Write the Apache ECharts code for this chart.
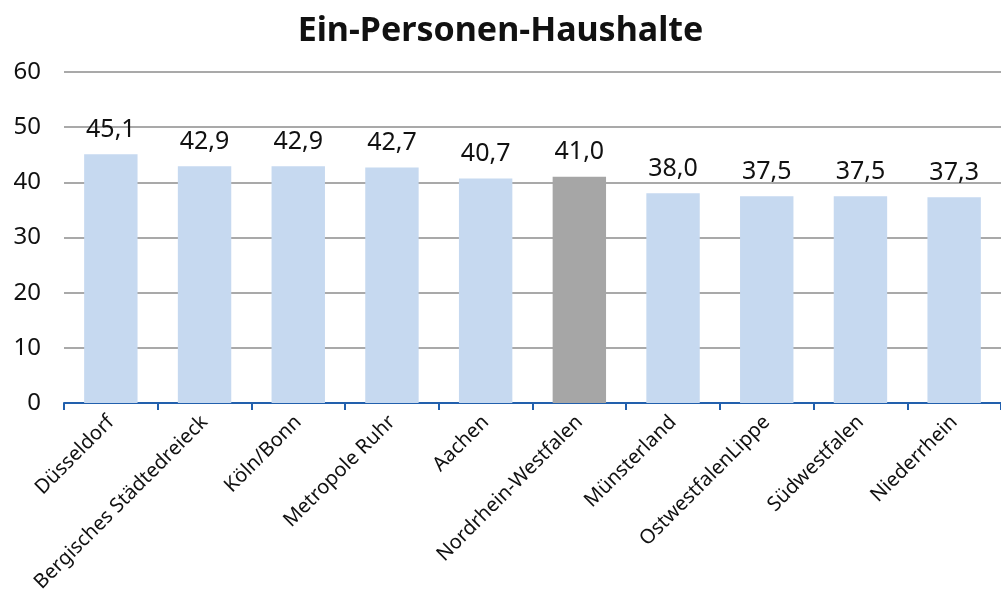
<!DOCTYPE html>
<html>
<head>
<meta charset="utf-8">
<script src="https://cdn.jsdelivr.net/npm/echarts@6/dist/echarts.min.js"></script>
<style>
  html, body { margin: 0; padding: 0; background: #fff; }
  #chart { width: 1001px; height: 596px; }
</style>
</head>
<body>
<div id="chart"></div>
<script>
const categories = ['Düsseldorf', 'Bergisches Städtedreieck', 'Köln/Bonn', 'Metropole Ruhr', 'Aachen',
  'Nordrhein-Westfalen', 'Münsterland', 'OstwestfalenLippe', 'Südwestfalen', 'Niederrhein'];
const values = [45.1, 42.9, 42.9, 42.7, 40.7, 41.0, 38.0, 37.5, 37.5, 37.3];
const highlight = 'Nordrhein-Westfalen';

const font = 'Noto Sans';

const chart = echarts.init(document.getElementById('chart'), null, { renderer: 'canvas' });
chart.setOption({
  animation: false,
  title: {
    text: 'Ein-Personen-Haushalte',
    left: 'center',
    top: 9,
    textStyle: { fontFamily: font, fontSize: 34, fontWeight: 'bold', color: '#111' }
  },
  grid: { left: 64, top: 72, width: 946, height: 331 },
  xAxis: {
    type: 'category',
    data: categories,
    axisLine: { lineStyle: { color: '#2260ad', width: 2 } },
    axisTick: { show: true, length: 7, lineStyle: { color: '#2260ad', width: 2 } },
    axisLabel: { interval: 0, rotate: 45, margin: 16, fontFamily: font, fontSize: 20, color: '#111' }
  },
  yAxis: {
    type: 'value',
    min: 0,
    max: 60,
    interval: 10,
    axisLine: { show: false },
    axisTick: { show: false },
    axisLabel: { margin: 23, fontFamily: font, fontSize: 24, color: '#111' },
    splitLine: { lineStyle: { color: '#8c8c8c', width: 1.5 } }
  },
  series: [{
    type: 'bar',
    barCategoryGap: '43%',
    data: values.map((v, i) => ({
      value: v,
      itemStyle: { color: categories[i] === highlight ? '#a6a6a6' : '#c6d9f0' }
    })),
    label: {
      show: true,
      position: 'top',
      distance: 12,
      fontFamily: font,
      fontSize: 25,
      color: '#111',
      formatter: p => p.value.toFixed(1).replace('.', ',')
    }
  }]
});
</script>
</body>
</html>
